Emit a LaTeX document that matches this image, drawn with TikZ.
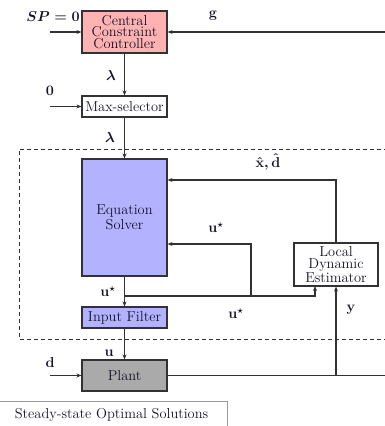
\documentclass[tikz,border=0pt]{standalone}
\usepackage{fontspec}
\usepackage{amsmath,bm}
\usetikzlibrary{arrows.meta}
\definecolor{ccred}{RGB}{255,178,178}
\definecolor{esblue}{RGB}{178,178,255}
\definecolor{plantgray}{RGB}{170,170,170}
\definecolor{edge}{RGB}{50,50,50}
\definecolor{txt}{RGB}{20,20,40}
\tikzset{
  blk/.style={draw=edge, line width=1.1pt, minimum width=85pt, inner sep=1pt, text=txt, font=\Large, align=center},
  arr/.style={draw=edge, line width=1.1pt, -{Stealth[length=5pt,width=4pt]}},
  ln/.style={draw=edge, line width=1.1pt},
  lbl/.style={font=\Large\boldmath, text=txt, inner sep=0pt}
}
\begin{document}
\begin{tikzpicture}[x=1pt,y=-1pt]
\useasboundingbox (0,0) rectangle (385,426);
\clip (0,0) rectangle (385,426);
% dashed region
\draw[edge, line width=0.9pt, dash pattern=on 4pt off 3pt] (395,149) -- (19,149) -- (19,339) -- (395,339);
% blocks
\node[blk, fill=ccred, minimum height=42pt, font=\fontsize{14.4}{11.5}\selectfont] (ccc) at (124.5,32) {Central\\Constraint\\Controller};
\node[blk, fill=white, minimum height=21pt] (maxsel) at (124.5,106.5) {Max-selector};
\node[blk, fill=esblue, minimum height=117pt, font=\fontsize{14.4}{15}\selectfont] (es) at (124.5,217.5) {Equation\\Solver};
\node[blk, fill=white, minimum width=84pt, minimum height=43pt, font=\fontsize{14.4}{12}\selectfont] (lde) at (336,264.5) {Local\\Dynamic\\Estimator};
\node[blk, fill=esblue, minimum height=21pt] (ifl) at (124.5,317.5) {Input Filter};
\node[blk, fill=plantgray, minimum height=31pt] (plant) at (124.5,375.5) {Plant};
\node[draw=black!40, line width=0.9pt, text=txt, font=\Large, minimum width=232pt, minimum height=30pt, inner sep=1pt, anchor=north east] (ss) at (228,400.5) {\raisebox{6pt}{Steady-state Optimal Solutions}};
% free ends
\coordinate (spin) at (50,32);
\coordinate (gin) at (395,32);
\coordinate (zin) at (50,106.5);
\coordinate (din) at (50,375.5);
\coordinate (pout) at (395,375.5);
\coordinate (xdy) at (0,180);
\coordinate (usy) at (0,244);
\coordinate (j1) at (251,296);
\coordinate (ldein) at (315,286);
% connectors
\draw[arr] (spin) -- (ccc.west);
\draw[arr] (gin) -- (ccc.east);
\draw[arr] (ccc.south) -- (maxsel.north);
\draw[arr] (zin) -- (maxsel.west);
\draw[arr] (maxsel.south) -- (es.north);
\draw[arr] (lde.north) |- (es.east |- xdy);
\draw[arr] (j1) |- (es.east |- usy);
\draw[arr] (es.south) -- (ifl.north);
\draw[arr] (es.south |- j1) -| (ldein);
\draw[arr] (ifl.south) -- (plant.north);
\draw[arr] (din) -- (plant.west);
\draw[ln] (plant.east) -- (pout);
\draw[arr] (lde.south |- plant.east) -- (lde.south);
% labels
\node[lbl] at (53,17) {$SP=0$};
\node[lbl] at (213,16) {$\mathbf{g}$};
\node[lbl] at (111,75) {$\lambda$};
\node[lbl] at (50,91) {$\mathbf{0}$};
\node[lbl] at (110,137) {$\lambda$};
\node[lbl] at (268,162) {$\hat{\mathbf{x}},\hat{\mathbf{d}}$};
\node[lbl] at (216,228) {$\mathbf{u}^{\star}$};
\node[lbl] at (108,292) {$\mathbf{u}^{\star}$};
\node[lbl] at (236,314) {$\mathbf{u}^{\star}$};
\node[lbl] at (351,310) {$\mathbf{y}$};
\node[lbl] at (109,353) {$\mathbf{u}$};
\node[lbl] at (50,362) {$\mathbf{d}$};
\end{tikzpicture}
\end{document}
